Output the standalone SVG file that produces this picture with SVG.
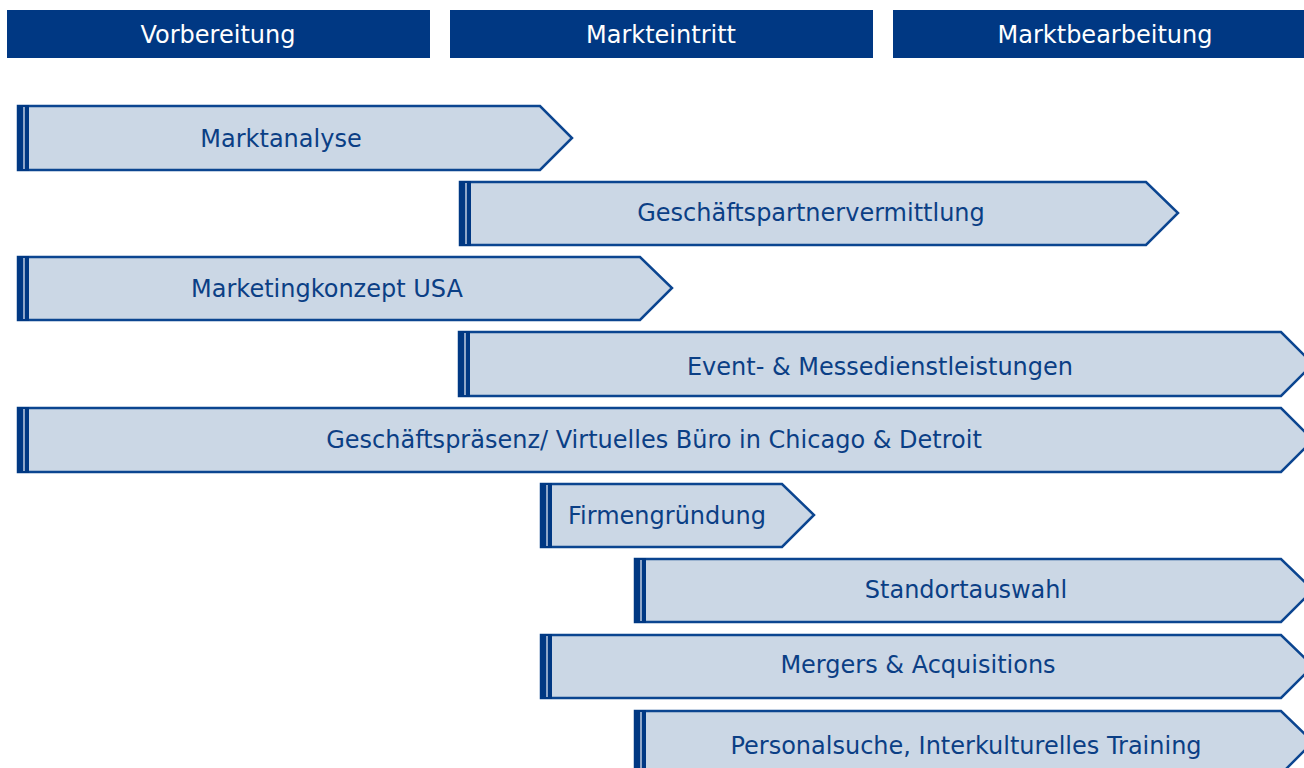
<svg xmlns="http://www.w3.org/2000/svg" width="1304" height="768" viewBox="0 0 1304 768">
<style>
.hdr{fill:#003883}
.ht{fill:#ffffff;font-family:"DejaVu Sans",sans-serif;font-size:24px;text-anchor:middle}
.arr{fill:#cbd7e5;stroke:#0b4590;stroke-width:2.5}
.bar{fill:#003883}
.stripe{fill:#8ea6c9}
.t{fill:#0b3f85;font-family:"DejaVu Sans",sans-serif;font-size:24px;text-anchor:middle}
</style>
<rect width="1304" height="768" fill="#ffffff"/>
<g id="phases">
<g id="h1"><rect class="hdr" x="7" y="10" width="423" height="48"/><text class="ht" x="218" y="43">Vorbereitung</text></g>
<g id="h2"><rect class="hdr" x="450" y="10" width="423" height="48"/><text class="ht" x="661" y="43">Markteintritt</text></g>
<g id="h3"><rect class="hdr" x="893" y="10" width="420" height="48"/><text class="ht" x="1105" y="43">Marktbearbeitung</text></g>
</g>
<g id="connectors"></g>
<g id="n1"><path class="arr" d="M18,106 H540 L572,138 L540,170 H18 Z"/><rect class="bar" x="17" y="105" width="12" height="66"/><rect class="stripe" x="23" y="107" width="2" height="62"/><text class="t" x="281" y="147">Marktanalyse</text></g>
<g id="n2"><path class="arr" d="M460,182 H1146 L1178,213 L1146,245 H460 Z"/><rect class="bar" x="459" y="181" width="12" height="65"/><rect class="stripe" x="465" y="183" width="2" height="61"/><text class="t" x="811" y="221">Geschäftspartnervermittlung</text></g>
<g id="n3"><path class="arr" d="M18,257 H640 L672,288 L640,320 H18 Z"/><rect class="bar" x="17" y="256" width="12" height="65"/><rect class="stripe" x="23" y="258" width="2" height="61"/><text class="t" x="327" y="297">Marketingkonzept USA</text></g>
<g id="n4"><path class="arr" d="M459,332 H1281 L1313,364 L1281,396 H459 Z"/><rect class="bar" x="458" y="331" width="12" height="66"/><rect class="stripe" x="464" y="333" width="2" height="62"/><text class="t" x="880" y="375">Event- &amp; Messedienstleistungen</text></g>
<g id="n5"><path class="arr" d="M18,408 H1281 L1313,440 L1281,472 H18 Z"/><rect class="bar" x="17" y="407" width="12" height="66"/><rect class="stripe" x="23" y="409" width="2" height="62"/><text class="t" x="654" y="448">Geschäftspräsenz/ Virtuelles Büro in Chicago &amp; Detroit</text></g>
<g id="n6"><path class="arr" d="M541,484 H782 L814,515 L782,547 H541 Z"/><rect class="bar" x="540" y="483" width="12" height="65"/><rect class="stripe" x="546" y="485" width="2" height="61"/><text class="t" x="667" y="524">Firmengründung</text></g>
<g id="n7"><path class="arr" d="M635,559 H1281 L1313,590 L1281,622 H635 Z"/><rect class="bar" x="634" y="558" width="12" height="65"/><rect class="stripe" x="640" y="560" width="2" height="61"/><text class="t" x="966" y="598">Standortauswahl</text></g>
<g id="n8"><path class="arr" d="M541,635 H1281 L1313,666 L1281,698 H541 Z"/><rect class="bar" x="540" y="634" width="12" height="65"/><rect class="stripe" x="546" y="636" width="2" height="61"/><text class="t" x="918" y="673">Mergers &amp; Acquisitions</text></g>
<g id="n9"><path class="arr" d="M635,711 H1281 L1313,742 L1281,774 H635 Z"/><rect class="bar" x="634" y="710" width="12" height="65"/><rect class="stripe" x="640" y="712" width="2" height="61"/><text class="t" x="966" y="754">Personalsuche, Interkulturelles Training</text></g>
</svg>
